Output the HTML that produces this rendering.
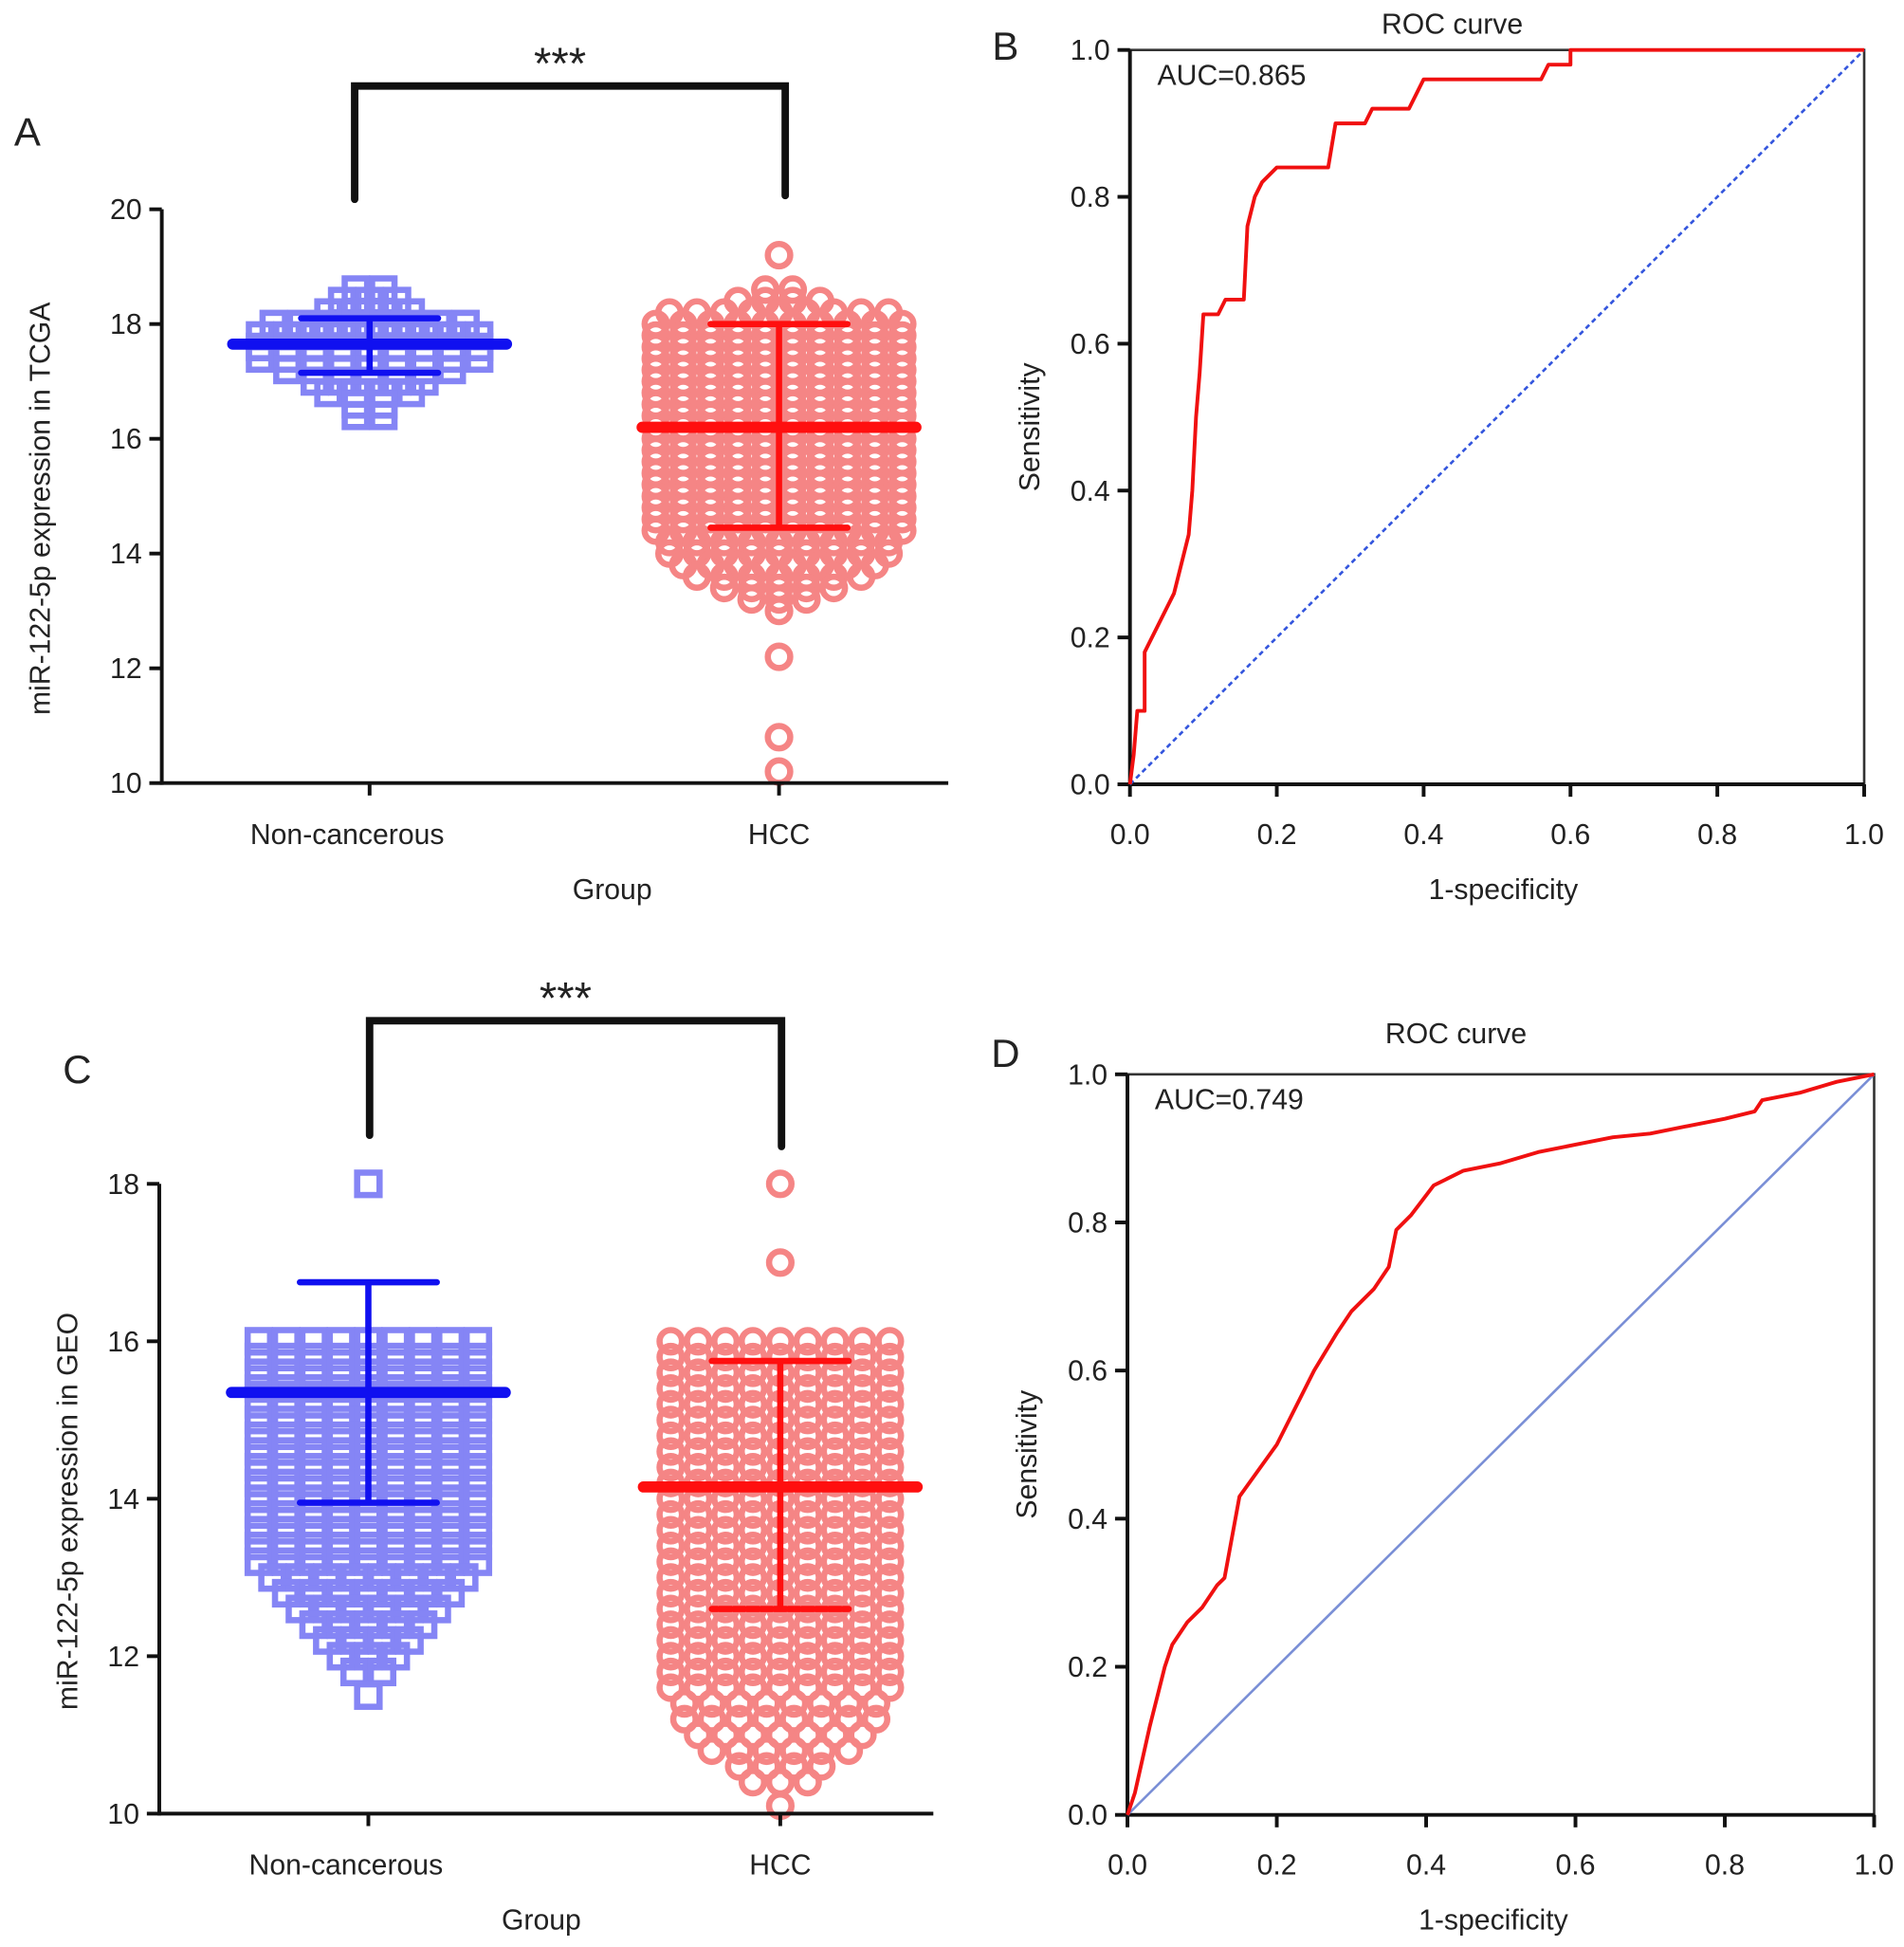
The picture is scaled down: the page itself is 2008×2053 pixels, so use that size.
<!DOCTYPE html>
<html><head><meta charset="utf-8"><style>
html,body{margin:0;padding:0;background:#fff;}
svg{display:block;font-family:"Liberation Sans",Arial,sans-serif;}
</style></head><body>
<svg id="fig" width="2008" height="2053" viewBox="0 0 1530 1564" xmlns="http://www.w3.org/2000/svg">
<g id="root"></g>
</svg>
<script>
// ---- Panel A data ----
const aNonLevels = [18.6,18.4,18.2,18.0,17.8,17.6,17.4,17.2,17.0,16.8,16.6,16.4];
const aNonCounts = [2,3,4,8,9,9,9,7,5,4,2,2];
const aHccLevels = [19.2,18.6,18.4,18.2,18.0,17.8,17.6,17.4,17.2,17.0,16.8,16.6,16.4,16.2,16.0,15.8,15.6,15.4,15.2,15.0,14.8,14.6,14.4,14.2,14.0,13.8,13.6,13.4,13.2,13.0,12.2,10.8,10.2];
const aHccCounts = [1,2,4,9,10,10,10,10,10,10,10,10,10,10,10,10,10,10,10,10,10,10,10,9,9,8,7,5,3,1,1,1,1];
const aMeans = [17.65,16.2];
const aSdLow = [17.15,14.45];
const aSdHigh = [18.1,18.0];
const aYTicks = [10,12,14,16,18,20];
// ---- Panel C data ----
const cNonLevels = [18.0,16.0,15.8,15.6,15.4,15.2,15.0,14.8,14.6,14.4,14.2,14.0,13.8,13.6,13.4,13.2,13.0,12.8,12.6,12.4,12.2,12.0,11.8,11.5];
const cNonCounts = [1,9,9,9,9,9,9,9,9,9,9,9,9,9,9,9,8,7,6,5,4,3,2,1];
const cHccLevels = [18.0,17.0,16.0,15.8,15.6,15.4,15.2,15.0,14.8,14.6,14.4,14.2,14.0,13.8,13.6,13.4,13.2,13.0,12.8,12.6,12.4,12.2,12.0,11.8,11.6,11.4,11.2,11.0,10.8,10.6,10.4,10.1];
const cHccCounts = [1,1,9,9,9,9,9,9,9,9,9,9,9,9,9,9,9,9,9,9,9,9,9,9,9,8,8,7,6,4,3,1];
const cMeans = [15.35,14.15];
const cSdLow = [13.95,12.6];
const cSdHigh = [16.75,15.75];
const cYTicks = [10,12,14,16,18];
// ---- ROC data ----
const bFpr = [0,0.005,0.01,0.02,0.02,0.03,0.04,0.05,0.06,0.07,0.08,0.085,0.09,0.095,0.1,0.12,0.13,0.155,0.16,0.17,0.18,0.2,0.27,0.28,0.32,0.33,0.38,0.39,0.4,0.56,0.57,0.6,0.6,1];
const bTpr = [0,0.04,0.1,0.1,0.18,0.2,0.22,0.24,0.26,0.3,0.34,0.4,0.5,0.56,0.64,0.64,0.66,0.66,0.76,0.8,0.82,0.84,0.84,0.9,0.9,0.92,0.92,0.94,0.96,0.96,0.98,0.98,1,1];
const dFpr = [0,0.01,0.03,0.05,0.06,0.08,0.1,0.12,0.13,0.15,0.2,0.23,0.25,0.28,0.3,0.33,0.35,0.36,0.38,0.41,0.45,0.5,0.55,0.6,0.65,0.7,0.75,0.8,0.84,0.85,0.9,0.95,1];
const dTpr = [0,0.03,0.12,0.2,0.23,0.26,0.28,0.31,0.32,0.43,0.5,0.56,0.6,0.65,0.68,0.71,0.74,0.79,0.81,0.85,0.87,0.88,0.895,0.905,0.915,0.92,0.93,0.94,0.95,0.965,0.975,0.99,1];
const rocTicks = [0,0.2,0.4,0.6,0.8,1.0];

const NS="http://www.w3.org/2000/svg";
const root=document.getElementById('root');
function mk(tag,attrs,parent){const e=document.createElementNS(NS,tag);for(const k in attrs)e.setAttribute(k,attrs[k]);(parent||root).appendChild(e);return e;}
function txt(s,x,y,size,anchor,parent,rot){const t=mk('text',{x:x,y:y,'font-size':size,'text-anchor':anchor||'middle',fill:'#222'},parent);if(rot)t.setAttribute('transform','rotate(-90 '+x+' '+y+')');t.textContent=s;return t;}

function scatterPanel(o){
  const g=mk('g',{});
  
  
  const y=v=>o.y0-(v-o.vmin)/(o.vmax-o.vmin)*(o.y0-o.y1);
  const drawGroup=(levels,counts,cx,shape,color)=>{
    const pg=mk('g',{},g);
    
    
    levels.forEach((v,i)=>{const n=counts[i];const sp=22;
      for(let j=0;j<n;j++){const x=cx+(j-(n-1)/2)*sp;const yy=y(v);
        let m;
        if(shape==='sq') m=mk('rect',{x:x-9,y:yy-9,width:18,height:18,fill:'none',stroke:color,'stroke-width':5},pg);
        else m=mk('circle',{cx:x,cy:yy,r:9,fill:'none',stroke:color,'stroke-width':5},pg);
        
        
      }});
  };
  drawGroup(o.nonL,o.nonC,o.cx[0],'sq','#8585f5');
  drawGroup(o.hccL,o.hccC,o.cx[1],'ci','#f58585');
  [0,1].forEach(i=>{const c=o.cx[i];const col=i?'#ff0f0f':'#1010f0';
    const eg=mk('g',{},g);
    
    
    mk('line',{x1:c,x2:c,y1:y(o.lo[i]),y2:y(o.hi[i]),stroke:col,'stroke-width':5},eg);
    mk('line',{x1:c-55,x2:c+55,y1:y(o.lo[i]),y2:y(o.lo[i]),stroke:col,'stroke-width':5,'stroke-linecap':'round'},eg);
    mk('line',{x1:c-55,x2:c+55,y1:y(o.hi[i]),y2:y(o.hi[i]),stroke:col,'stroke-width':5,'stroke-linecap':'round'},eg);
    mk('line',{x1:c-110,x2:c+110,y1:y(o.mean[i]),y2:y(o.mean[i]),stroke:col,'stroke-width':9,'stroke-linecap':'round'},eg);
  });
  const ax=mk('g',{},g);
  
  
  mk('line',{x1:o.x0,x2:o.x0,y1:o.y1,y2:o.y0+1.5,stroke:'#111','stroke-width':3},ax);
  mk('line',{x1:o.x0,x2:o.x2,y1:o.y0,y2:o.y0,stroke:'#111','stroke-width':3},ax);
  o.ticks.forEach(v=>{mk('line',{x1:o.x0-10,x2:o.x0,y1:y(v),y2:y(v),stroke:'#111','stroke-width':3},ax);
    const t=txt(String(v),o.x0-16,y(v)+8,23,'end',ax);});
  ['Non-cancerous','HCC'].forEach((s,i)=>{mk('line',{x1:o.cx[i],x2:o.cx[i],y1:o.y0,y2:o.y0+10,stroke:'#111','stroke-width':3},ax);
    const t=txt(s,o.cx[i]-(i?0:18),o.y0+49,23,'middle',ax);});
  const xt=txt('Group',o.groupX,o.y0+93,23,'middle',ax);
  const yt=txt(o.ylabel,o.ylx,(o.y0+o.y1)/2+10,23,'middle',ax,true);
  const br=mk('path',{d:`M${o.br[0]} ${o.br[3]} V${o.br[2]} H${o.br[1]} V${o.br[4]}`,fill:'none',stroke:'#111','stroke-width':6,'stroke-linecap':'round','stroke-linejoin':'miter'},g);
  
  const st=txt('***',(o.br[0]+o.br[1])/2-8,o.br[2]-6,36,'middle',g);
  const pl=txt(o.letter,o.lx,o.ly,32,'middle',g);
}

scatterPanel({name:'panel-a-tcga-scatter',x0:130,x2:762,y0:629,y1:168,vmin:10,vmax:20,cx:[297,626],
  nonL:aNonLevels,nonC:aNonCounts,hccL:aHccLevels,hccC:aHccCounts,mean:aMeans,lo:aSdLow,hi:aSdHigh,ticks:aYTicks,
  ylabel:'miR-122-5p expression in TCGA',ylx:40,groupX:492,br:[285,631,69,160,157],letter:'A',lx:22,ly:117});
scatterPanel({name:'panel-c-geo-scatter',x0:128,x2:750,y0:1457,y1:951,vmin:10,vmax:18,cx:[296,627],
  nonL:cNonLevels,nonC:cNonCounts,hccL:cHccLevels,hccC:cHccCounts,mean:cMeans,lo:cSdLow,hi:cSdHigh,ticks:cYTicks,
  ylabel:'miR-122-5p expression in GEO',ylx:62,groupX:435,br:[297,628,820,912,921],letter:'C',lx:62,ly:870});

function rocPanel(o){
  const g=mk('g',{});
  
  
  const X=v=>o.x0+v*(o.x1-o.x0), Y=v=>o.y0-v*(o.y0-o.y1);
  const fr=mk('rect',{x:o.x0,y:o.y1,width:o.x1-o.x0,height:o.y0-o.y1,fill:'none',stroke:'#333','stroke-width':2},g);
  
  mk('line',{x1:o.x0,x2:o.x0,y1:o.y1,y2:o.y0,stroke:'#111','stroke-width':3},g);
  mk('line',{x1:o.x0,x2:o.x1,y1:o.y0,y2:o.y0,stroke:'#111','stroke-width':3},g);
  rocTicks.forEach(v=>{
    mk('line',{x1:X(v),x2:X(v),y1:o.y0,y2:o.y0+10,stroke:'#111','stroke-width':3},g);
    const a=txt(v.toFixed(1),X(v),o.y0+48,23,'middle',g);
    mk('line',{x1:o.x0-10,x2:o.x0,y1:Y(v),y2:Y(v),stroke:'#111','stroke-width':3},g);
    const b=txt(v.toFixed(1),o.x0-16,Y(v)+8,23,'end',g);
  });
  const dg=mk('line',{x1:X(0),y1:Y(0),x2:X(1),y2:Y(1),stroke:o.dashed?'#3355dd':'#7a8fd6','stroke-width':2,'stroke-dasharray':o.dashed?'4 3':'none'},g);
  
  const pts=o.fpr.map((f,i)=>X(f).toFixed(1)+','+Y(o.tpr[i]).toFixed(1)).join(' ');
  const cv=mk('polyline',{points:pts,fill:'none',stroke:'#f01010','stroke-width':3,'stroke-linejoin':'round'},g);
  
  const t=txt('ROC curve',o.titleX,o.titleY,23,'middle',g);
  const au=txt(o.auc,o.x0+22,o.y1+28,23,'start',g);
  const xt=txt('1-specificity',o.xtX,o.y0+92,23,'middle',g);
  const yt=txt('Sensitivity',o.ylx,(o.y0+o.y1)/2+8,23,'middle',g,true);
  const pl=txt(o.letter,o.lx,o.ly,32,'middle',g);
}
rocPanel({name:'panel-b-roc',x0:908,x1:1498,y0:630,y1:40,fpr:bFpr,tpr:bTpr,dashed:true,auc:'AUC=0.865',titleX:1167,titleY:27,xtX:1208,ylx:835,letter:'B',lx:808,ly:48});
rocPanel({name:'panel-d-roc',x0:906,x1:1506,y0:1458,y1:863,fpr:dFpr,tpr:dTpr,dashed:false,auc:'AUC=0.749',titleX:1170,titleY:838,xtX:1200,ylx:833,letter:'D',lx:808,ly:857});
</script>
</body></html>
